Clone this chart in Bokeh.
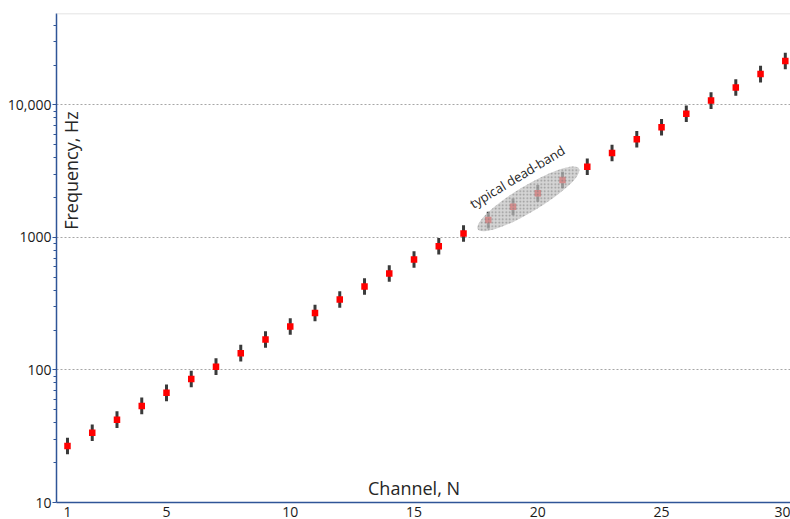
import math
from bokeh.plotting import figure
from bokeh.models import FixedTicker, CustomJSTickFormatter, Label, Span
from bokeh.embed import file_html
from bokeh.resources import INLINE

# ---- data ----
channels = list(range(1, 31))
freq_hz = [26.7, 33.6, 42.2, 53.6, 67.2, 85.5, 106, 134, 170, 213,
           269, 340, 426, 534, 682, 859, 1072, 1352, 1703, 2153,
           2711, 3420, 4343, 5508, 6795, 8572, 10790, 13540, 17100, 21440]
spread_factor = 1.155          # whisker extent (multiplicative, log-symmetric)
dead_band_channels = [18, 19, 20, 21]
x_ticks = [1, 5, 10, 15, 20, 25, 30]
y_ticks = [10, 100, 1000, 10000]
y_minor = [m * d for d in (10, 100, 1000, 10000) for m in range(2, 10)]

lo = [f / spread_factor for f in freq_hz]
hi = [f * spread_factor for f in freq_hz]

AXIS_BLUE = "#2f5597"
FONT = "Open Sans"

p = figure(width=790, height=519, y_axis_type="log",
           x_range=(0.556, 30.21), y_range=(10, 49000),
           output_backend="svg", toolbar_location=None,
           min_border_left=56, min_border_right=0,
           min_border_top=13, min_border_bottom=0)
p.outline_line_color = None
p.background_fill_color = "white"
p.border_fill_color = "white"

# axes
xa = p.xaxis[0]
xa.ticker = FixedTicker(ticks=x_ticks)
xa.axis_line_color = AXIS_BLUE
xa.axis_line_width = 1.5
xa.major_tick_line_color = None
xa.minor_tick_line_color = None
xa.major_label_text_font = FONT
xa.major_label_text_font_size = "14px"
xa.major_label_text_color = "#1a1a1a"
xa.major_label_standoff = -2

ya = p.yaxis[0]
ya.ticker = FixedTicker(ticks=y_ticks, minor_ticks=y_minor)
ya.formatter = CustomJSTickFormatter(
    code="var v = Math.round(tick); return v >= 10000 ? v.toLocaleString('en-US') : String(v);")
ya.axis_line_color = AXIS_BLUE
ya.axis_line_width = 1.5
ya.major_tick_line_color = AXIS_BLUE
ya.major_tick_out = 4
ya.major_tick_in = 0
ya.minor_tick_line_color = AXIS_BLUE
ya.minor_tick_out = 3
ya.minor_tick_in = 0
ya.major_label_text_font = FONT
ya.major_label_text_font_size = "14px"
ya.major_label_text_color = "#1a1a1a"
ya.major_label_standoff = 1

p.xgrid.grid_line_color = None
p.ygrid.grid_line_color = "#a6a6a6"
p.ygrid.grid_line_dash = "2 2"
p.ygrid.grid_line_width = 1

p.add_layout(Span(location=49000, dimension="width",
                  line_color="#d9d9d9", line_width=1.5))

# whiskers + points
p.segment(x0=channels, y0=lo, x1=channels, y1=hi,
          line_color="#3a3a3a", line_width=3)
p.scatter(x=channels, y=freq_hz, marker="square", size=6.5,
          fill_color="#ff0000", line_color=None)

# dead-band ellipse
db_idx = [channels.index(c) for c in dead_band_channels]
cx = sum(dead_band_channels) / len(dead_band_channels) + 0.12
cy = math.exp(sum(math.log(freq_hz[i]) for i in db_idx) / len(db_idx)) * 1.02
ang = math.radians(31)
p.ellipse(x=[cx], y=[cy], width=118, height=26, angle=ang,
          width_units="screen", height_units="screen",
          fill_color="#c4c4c4", fill_alpha=0.72,
          hatch_pattern="dot", hatch_color="#7a7a7a", hatch_scale=3.5,
          hatch_alpha=0.7, line_color=None)

p.add_layout(Label(x=cx - 0.45, y=cy * 1.47, text="typical dead-band",
                   angle=ang, text_align="center", text_baseline="middle",
                   text_font=FONT, text_font_size="13px",
                   text_color="#262626"))

# in-plot axis titles
p.add_layout(Label(x=1.16, y=3200, text="Frequency, Hz", angle=math.pi / 2,
                   text_align="center", text_baseline="middle",
                   text_font=FONT, text_font_size="18px", text_color="#262626",
                   background_fill_color="white"))
p.add_layout(Label(x=15, y=12.8, text="Channel, N",
                   text_align="center", text_baseline="middle",
                   text_font=FONT, text_font_size="18px", text_color="#262626"))

open("out.html", "w").write(file_html(p, INLINE))
